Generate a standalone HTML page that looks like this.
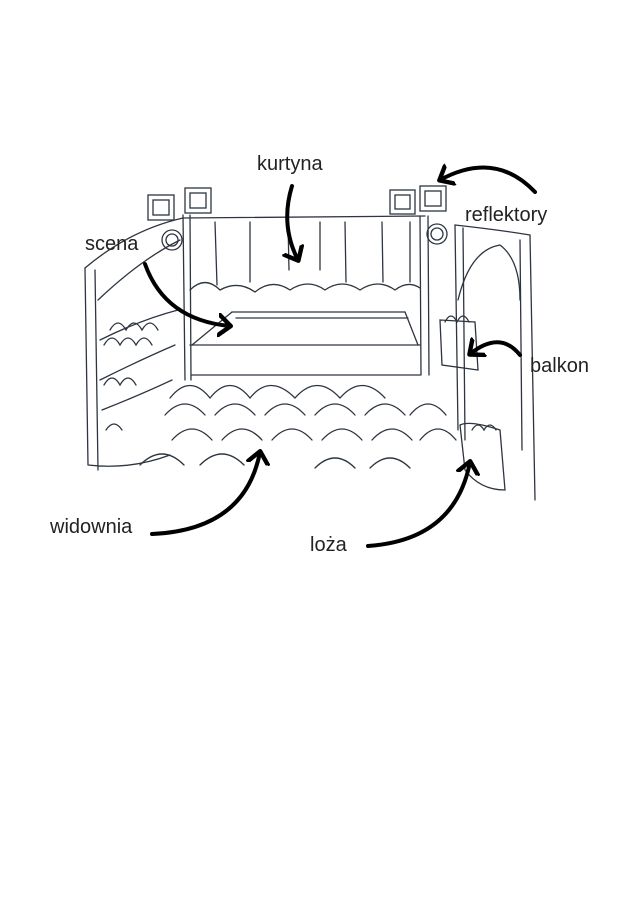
<!DOCTYPE html>
<html><head><meta charset="utf-8"><style>
html,body{margin:0;padding:0;background:#fff;}
svg{display:block;}
text{font-family:"Liberation Sans",sans-serif;font-size:20px;fill:#222;}
</style></head><body>
<svg width="640" height="905" viewBox="0 0 640 905" xmlns="http://www.w3.org/2000/svg">
<defs>
<marker id="ah" markerWidth="6" markerHeight="6" refX="3" refY="3" orient="auto" markerUnits="strokeWidth">
<path d="M0,0.3 L3.2,3 L0,5.7" fill="none" stroke="#000" stroke-width="1.1" stroke-linecap="round" stroke-linejoin="round"/>
</marker>
</defs>
<g fill="none" stroke="#2d3540" stroke-width="1.3" stroke-linecap="round">
<!-- stage frame -->
<path d="M183 218 L425 216"/>
<path d="M183 215 L185 380 M190 215 L191 380"/>
<path d="M420 216 L421 375 M428 216 L429 375"/>
<!-- curtain -->
<path d="M215 222 L217 285 M250 222 L250 282 M288 222 L289 270 M320 222 L320 270 M345 222 L346 282 M382 222 L383 282 M410 222 L410 282"/>
<path d="M190 290 Q205 275 220 290 Q238 280 255 292 Q272 278 290 290 Q308 278 325 290 Q342 278 360 290 Q378 278 395 290 Q408 280 420 288"/>
<!-- stage platform -->
<path d="M232 312 L405 312 M236 318 L408 318"/>
<path d="M232 312 L192 345 M405 312 L418 345"/>
<path d="M190 345 L420 345 M191 375 L420 375"/>
<!-- left wall -->
<path d="M85 268 L88 465 M95 270 L98 470 M88 465 Q130 470 170 455"/>
<path d="M85 268 Q130 230 183 218"/>
<path d="M98 300 Q140 260 180 240"/>
<path d="M100 340 Q140 320 178 310 M100 380 Q140 360 175 345 M102 410 Q140 395 172 380"/>
<path d="M104 345 q8 -14 16 0 q8 -14 16 0 q8 -14 16 0 M104 385 q8 -14 16 0 q8 -14 16 0 M106 430 q8 -12 16 0"/>
<path d="M110 330 q8 -14 16 0 q8 -14 16 0 q8 -14 16 0"/>
<!-- right wall -->
<path d="M455 225 L458 430 M463 228 L465 440 M530 235 L535 500 M520 240 L522 450"/>
<path d="M455 225 Q500 230 530 235"/>
<path d="M458 300 Q470 250 500 245 Q520 260 520 300"/>
<path d="M440 320 L475 322 L478 370 L442 365 Z"/>
<path d="M445 322 q6 -12 12 0 q6 -12 12 0"/>
<path d="M460 425 Q470 420 500 430 L505 490 Q480 490 465 470 Z"/>
<path d="M472 430 q6 -10 12 0 q6 -10 12 0"/>
<!-- seats -->
<path d="M170 398 q20 -25 40 0 q20 -25 40 0 q20 -25 45 0 q22 -25 45 0 q22 -25 45 0"/>
<path d="M165 415 q20 -22 40 0 M215 415 q20 -22 40 0 M265 415 q20 -22 40 0 M315 415 q20 -22 40 0 M365 415 q20 -22 40 0 M410 415 q18 -22 36 0"/>
<path d="M172 440 q20 -22 40 0 M222 440 q20 -22 40 0 M272 440 q20 -22 40 0 M322 440 q20 -22 40 0 M372 440 q20 -22 40 0 M420 440 q18 -22 36 0"/>
<path d="M140 465 q22 -22 44 0 M200 465 q22 -22 44 0 M315 468 q20 -20 40 0 M370 468 q20 -20 40 0"/>
<!-- spotlights -->
<rect x="148" y="195" width="26" height="25"/><rect x="153" y="200" width="16" height="15"/>
<rect x="185" y="188" width="26" height="25"/><rect x="190" y="193" width="16" height="15"/>
<circle cx="172" cy="240" r="10"/><circle cx="172" cy="240" r="6"/>
<rect x="390" y="190" width="25" height="24"/><rect x="395" y="195" width="15" height="14"/>
<rect x="420" y="186" width="26" height="25"/><rect x="425" y="191" width="16" height="15"/>
<circle cx="437" cy="234" r="10"/><circle cx="437" cy="234" r="6"/>
</g>
<!-- arrows -->
<g fill="none" stroke="#000" stroke-width="4" stroke-linecap="round" marker-end="url(#ah)">
<path d="M292 186 Q280 225 298 260"/>
<path d="M535 192 Q495 150 440 180"/>
<path d="M145 264 Q165 320 230 326"/>
<path d="M520 355 Q500 330 470 354"/>
<path d="M152 534 Q245 530 260 452"/>
<path d="M368 546 Q455 540 470 462"/>
</g>
<text x="257" y="170">kurtyna</text>
<text x="465" y="221">reflektory</text>
<text x="85" y="250">scena</text>
<text x="530" y="372">balkon</text>
<text x="50" y="533">widownia</text>
<text x="310" y="551">loża</text>
</svg>
</body></html>
